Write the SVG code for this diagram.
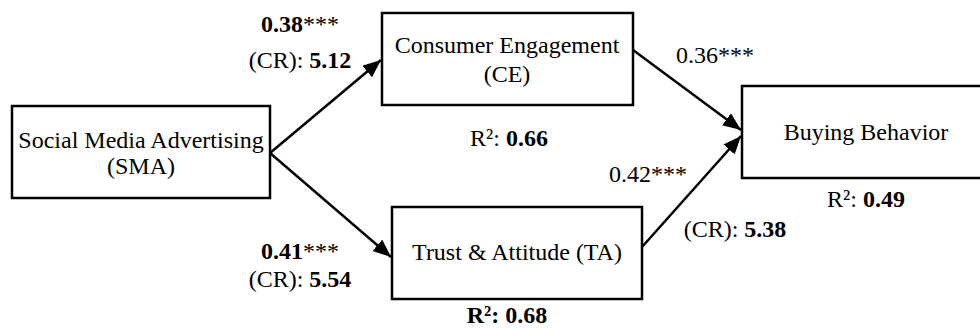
<svg xmlns="http://www.w3.org/2000/svg" width="980" height="329" viewBox="0 0 980 329">
<style>
text{font-family:"Liberation Serif","Times New Roman",serif;font-size:24px;fill:#000;text-anchor:middle}
.b{font-weight:bold}
rect{fill:#fff;stroke:#000;stroke-width:2.5}
.c line{stroke:#000;stroke-width:2.5}
</style>
<defs>
<marker id="ah" markerUnits="userSpaceOnUse" markerWidth="20" markerHeight="16" refX="18" refY="7.5" orient="auto" viewBox="0 0 20 16">
<path d="M0,0 L18,7.5 L0,15 Z" fill="#000"/>
</marker>
</defs>
<g class="c" id="connectors">
<line x1="270" y1="153" x2="381" y2="60" marker-end="url(#ah)"/>
<line x1="270" y1="153" x2="391" y2="257" marker-end="url(#ah)"/>
<line x1="633" y1="50" x2="741" y2="130" marker-end="url(#ah)"/>
<line x1="642" y1="247" x2="741" y2="136" marker-end="url(#ah)"/>
</g>
<g id="sma">
<rect x="12" y="106" width="258" height="92"/>
<text x="141" y="148">Social Media Advertising</text>
<text x="141" y="174">(SMA)</text>
</g>
<g id="ce">
<rect x="382" y="13" width="251" height="92"/>
<text x="507" y="53">Consumer Engagement</text>
<text x="507" y="82">(CE)</text>
</g>
<g id="ta">
<rect x="392" y="207" width="250" height="92"/>
<text x="517" y="260">Trust &amp; Attitude (TA)</text>
</g>
<g id="bb">
<rect x="742" y="86" width="252" height="92"/>
<text x="866" y="140">Buying Behavior</text>
</g>
<g id="labels">
<text x="300" y="32"><tspan class="b">0.38</tspan>***</text>
<text x="300" y="68">(CR): <tspan class="b">5.12</tspan></text>
<text x="300" y="259"><tspan class="b">0.41</tspan>***</text>
<text x="300" y="287">(CR): <tspan class="b">5.54</tspan></text>
<text x="509" y="146">R²: <tspan class="b">0.66</tspan></text>
<text x="715" y="63">0.36***</text>
<text x="648" y="182">0.42***</text>
<text x="735" y="237">(CR): <tspan class="b">5.38</tspan></text>
<text x="866" y="207">R²: <tspan class="b">0.49</tspan></text>
<text x="507" y="323" class="b">R²: 0.68</text>
</g>
</svg>
